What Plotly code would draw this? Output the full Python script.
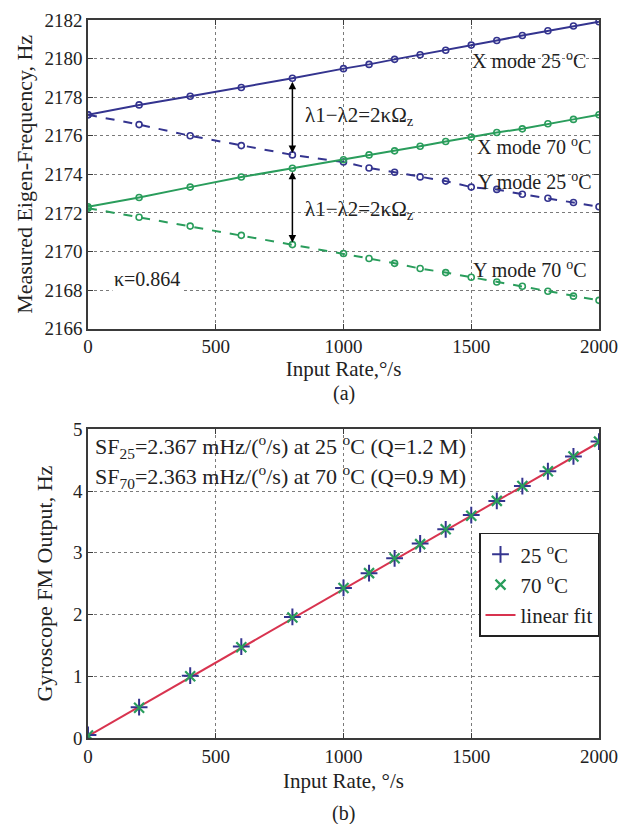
import plotly.graph_objects as go

# ---- data: mode-split measurement (panel a) ----
rate = [0, 200, 400, 600, 800, 1000, 1100, 1200, 1300, 1400, 1500,
        1600, 1700, 1800, 1900, 2000]
x_mode_25 = [2177.09, 2177.60, 2178.05, 2178.50, 2178.98, 2179.48, 2179.70, 2179.96,
             2180.20, 2180.43, 2180.70, 2180.94, 2181.20, 2181.44, 2181.69, 2181.91]
y_mode_25 = [2177.09, 2176.58, 2176.00, 2175.49, 2175.01, 2174.64, 2174.33, 2174.11,
             2173.87, 2173.65, 2173.34, 2173.22, 2172.97, 2172.76, 2172.54, 2172.32]
x_mode_70 = [2172.32, 2172.80, 2173.34, 2173.86, 2174.32, 2174.76, 2175.01, 2175.22,
             2175.46, 2175.70, 2175.93, 2176.17, 2176.36, 2176.62, 2176.85, 2177.09]
y_mode_70 = [2172.25, 2171.78, 2171.32, 2170.84, 2170.36, 2169.90, 2169.64, 2169.39,
             2169.12, 2168.91, 2168.67, 2168.42, 2168.20, 2167.94, 2167.69, 2167.47]

# ---- data: FM output (panel b) ----
fm_25 = [0.05, 0.50, 1.01, 1.48, 1.96, 2.43, 2.67, 2.91,
         3.15, 3.38, 3.61, 3.84, 4.08, 4.32, 4.56, 4.80]
fm_70 = [0.04, 0.49, 1.00, 1.47, 1.95, 2.43, 2.67, 2.91,
         3.14, 3.38, 3.60, 3.84, 4.08, 4.32, 4.56, 4.80]
fit_rate = [0, 2000]
fit_out = [0.03, 4.79]

x_ticks = [0, 500, 1000, 1500, 2000]
ya_ticks = list(range(2166, 2183, 2))
yb_ticks = [0, 1, 2, 3, 4, 5]

BLUE = "#34348f"
GREEN = "#2a9d5c"
RED = "#d8334f"
FONT = "Liberation Serif"
AX = "#3a3a3a"
GRID = "#7a7a7a"
TXT = "#222"

fig = go.Figure()

# panel (a)
def mode_trace(y, color, dash):
    return go.Scatter(x=rate, y=y, mode="lines+markers", xaxis="x", yaxis="y",
                      line=dict(color=color, width=2, dash=dash),
                      marker=dict(symbol="circle-open", size=6, color=color, line=dict(width=1.6)),
                      showlegend=False)

fig.add_trace(mode_trace(x_mode_25, BLUE, "solid"))
fig.add_trace(mode_trace(y_mode_25, BLUE, "dash"))
fig.add_trace(mode_trace(x_mode_70, GREEN, "solid"))
fig.add_trace(mode_trace(y_mode_70, GREEN, "dash"))

# panel (b)
fig.add_trace(go.Scatter(x=fit_rate, y=fit_out, mode="lines", xaxis="x2", yaxis="y2",
                         line=dict(color=RED, width=2), name="linear fit", legendrank=3))
fig.add_trace(go.Scatter(x=rate, y=fm_25, mode="markers", xaxis="x2", yaxis="y2",
                         marker=dict(symbol="cross-thin-open", size=12, color=BLUE,
                                     line=dict(color=BLUE, width=2)),
                         name="25 <sup>o</sup>C", legendrank=1))
fig.add_trace(go.Scatter(x=rate, y=fm_70, mode="markers", xaxis="x2", yaxis="y2",
                         marker=dict(symbol="x-thin-open", size=10, color=GREEN,
                                     line=dict(color=GREEN, width=2.2)),
                         name="70 <sup>o</sup>C", legendrank=2))

anns = []
# split arrows at 800 deg/s
i800 = rate.index(800)
for top, bot in [(x_mode_25[i800], y_mode_25[i800]), (x_mode_70[i800], y_mode_70[i800])]:
    anns.append(dict(x=800, y=bot, ax=800, ay=top, xref="x", yref="y", axref="x", ayref="y",
                     showarrow=True, arrowhead=2, arrowside="end+start", arrowsize=1,
                     arrowwidth=1.5, arrowcolor="black", standoff=2, startstandoff=2, text=""))


def txt(size):
    return dict(font=dict(family=FONT, size=size, color=TXT), showarrow=False)


anns += [
    dict(x=840, y=2177.0, xref="x", yref="y", xanchor="left", text="λ1−λ2=2κΩ<sub>z</sub>", **txt(21)),
    dict(x=840, y=2172.15, xref="x", yref="y", xanchor="left", text="λ1−λ2=2κΩ<sub>z</sub>", **txt(21)),
    dict(x=1955, y=2179.95, xref="x", yref="y", xanchor="right", text="X mode 25 <sup>o</sup>C", **txt(20)),
    dict(x=1976, y=2175.45, xref="x", yref="y", xanchor="right", text="X mode 70 <sup>o</sup>C", **txt(20)),
    dict(x=1976, y=2173.65, xref="x", yref="y", xanchor="right", text="Y mode 25 <sup>o</sup>C", **txt(20)),
    dict(x=1955, y=2169.1, xref="x", yref="y", xanchor="right", text="Y mode 70 <sup>o</sup>C", **txt(20)),
    dict(x=95, y=2168.6, xref="x", yref="y", xanchor="left", text="κ=0.864",
         bgcolor="white", **txt(20)),
    dict(x=18, y=4.72, xref="x2", yref="y2", xanchor="left",
         text="SF<sub>25</sub>=2.367 mHz/(<sup>o</sup>/s) at 25 <sup>o</sup>C (Q=1.2 M)", **txt(22)),
    dict(x=18, y=4.24, xref="x2", yref="y2", xanchor="left",
         text="SF<sub>70</sub>=2.363 mHz/(<sup>o</sup>/s) at 70 <sup>o</sup>C (Q=0.9 M)", **txt(22)),
    dict(x=0.5, y=0.498, xref="paper", yref="paper", yanchor="top", text="(a)", **txt(20)),
    dict(x=0.5, y=-0.086, xref="paper", yref="paper", yanchor="top", text="(b)", **txt(20)),
]

axis_common = dict(showline=True, linecolor=AX, linewidth=1.5, mirror="ticks",
                   ticks="inside", ticklen=5, tickcolor=AX,
                   showgrid=True, gridcolor=GRID, griddash="dot", gridwidth=1,
                   zeroline=False, tickfont=dict(family=FONT, size=19, color=TXT))

fig.update_layout(
    width=629, height=824,
    margin=dict(l=88, r=30, t=10, b=86),
    paper_bgcolor="white", plot_bgcolor="white",
    font=dict(family=FONT, size=19, color=TXT),
    xaxis=dict(domain=[0, 1], anchor="y", range=[0, 2000], tickvals=x_ticks,
               title=dict(text="Input Rate,°/s", standoff=2,
                          font=dict(family=FONT, size=21, color=TXT)), **axis_common),
    yaxis=dict(domain=[0.570, 1], anchor="x", range=[2166, 2182], tickvals=ya_ticks,
               title=dict(text="Measured Eigen-Frequency, Hz", standoff=6,
                          font=dict(family=FONT, size=22, color=TXT)), **axis_common),
    xaxis2=dict(domain=[0, 1], anchor="y2", range=[0, 2000], tickvals=x_ticks,
                title=dict(text="Input Rate, °/s", standoff=8,
                           font=dict(family=FONT, size=21, color=TXT)), **axis_common),
    yaxis2=dict(domain=[0, 0.43], anchor="x2", range=[0, 5], tickvals=yb_ticks,
                title=dict(text="Gyroscope FM Output, Hz", standoff=14,
                           font=dict(family=FONT, size=22, color=TXT)), **axis_common),
    legend=dict(x=1, y=0.286, xanchor="right", yanchor="top", bgcolor="white",
                bordercolor="#222", borderwidth=1.5, tracegroupgap=0,
                font=dict(family=FONT, size=21, color=TXT), itemwidth=30),
    annotations=anns,
)

fig.write_html("out.html")
